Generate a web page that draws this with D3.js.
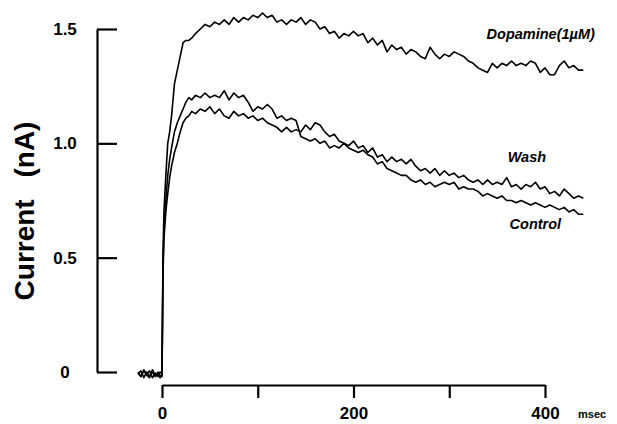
<!DOCTYPE html>
<html>
<head>
<meta charset="utf-8">
<script src="https://cdn.jsdelivr.net/npm/d3@7"></script>
<style>
  body { margin: 0; background: #fff; }
  svg { display: block; font-family: "Liberation Sans", Arial, Helvetica, sans-serif; }
  .trace { fill: none; stroke: #000; stroke-width: 1.6; stroke-linejoin: round; }
  .axis path, .axis line { stroke: #000; stroke-width: 2.2; }
  .axis text { font-size: 17px; font-weight: bold; fill: #000; }
  .label { font-size: 14.5px; font-weight: bold; font-style: italic; }
</style>
</head>
<body>
<svg width="617" height="424"></svg>
<script>
// **** data: sample times (ms) and currents (nA) ****

var timeMs = [-25, -22, -19, -16, -13, -10, -7, -4, -2, 0,
    1, 2, 4, 6, 8, 10, 13, 16, 19, 22, 25, 28, 31, 35,
    40, 45, 50, 55, 60, 65, 70, 75, 80, 85,
    90, 95, 100, 105, 110, 115, 120, 125, 130, 135,
    140, 145, 150, 155, 160, 165, 170, 175, 180, 185,
    190, 195, 200, 205, 210, 215, 220, 225, 230, 235,
    240, 245, 250, 255, 260, 265, 270, 275, 280, 285,
    290, 295, 300, 305, 310, 315, 320, 325, 330, 335,
    340, 345, 350, 355, 360, 365, 370, 375, 380, 385,
    390, 395, 400, 405, 410, 415, 420, 425, 430, 435,
    440];

var dopamine = [-0.005, -0.02, 0.005, -0.015, -0.025, 0.0, -0.02, -0.01, -0.015, -0.02,
    0.50, 0.70, 0.86, 1.00, 1.05, 1.12, 1.26, 1.32, 1.38, 1.44, 1.45, 1.45, 1.46, 1.48,
    1.50, 1.52, 1.51, 1.53, 1.52, 1.54, 1.52, 1.55, 1.53, 1.55,
    1.54, 1.56, 1.55, 1.57, 1.55, 1.56, 1.53, 1.54, 1.52, 1.54,
    1.53, 1.55, 1.52, 1.54, 1.53, 1.50, 1.51, 1.48, 1.49, 1.46,
    1.48, 1.47, 1.49, 1.47, 1.48, 1.44, 1.46, 1.43, 1.45, 1.40,
    1.43, 1.41, 1.42, 1.39, 1.41, 1.40, 1.38, 1.37, 1.42, 1.39,
    1.37, 1.39, 1.38, 1.40, 1.39, 1.38, 1.36, 1.35, 1.33, 1.32,
    1.31, 1.35, 1.33, 1.35, 1.34, 1.36, 1.34, 1.35, 1.34, 1.36,
    1.35, 1.31, 1.33, 1.30, 1.30, 1.34, 1.36, 1.33, 1.34, 1.32,
    1.32];

var wash = [0.0, -0.02, 0.01, -0.01, 0.005, -0.025, -0.005, -0.02, 0.0, -0.01,
    0.45, 0.62, 0.75, 0.86, 0.93, 0.98, 1.05, 1.09, 1.12, 1.15, 1.18, 1.20, 1.19, 1.21,
    1.20, 1.22, 1.20, 1.21, 1.20, 1.23, 1.19, 1.22, 1.20, 1.21,
    1.18, 1.14, 1.16, 1.15, 1.17, 1.15, 1.11, 1.12, 1.10, 1.11,
    1.10, 1.03, 1.02, 1.01, 1.02, 1.00, 1.01, 0.98, 0.99, 0.98,
    1.00, 0.99, 1.01, 0.98, 0.99, 0.96, 0.98, 0.94, 0.95, 0.92,
    0.94, 0.92, 0.93, 0.91, 0.93, 0.90, 0.88, 0.89, 0.87, 0.89,
    0.86, 0.88, 0.86, 0.87, 0.85, 0.86, 0.84, 0.83, 0.84, 0.82,
    0.84, 0.82, 0.83, 0.82, 0.85, 0.81, 0.82, 0.80, 0.82, 0.81,
    0.83, 0.80, 0.81, 0.78, 0.79, 0.77, 0.80, 0.78, 0.76, 0.77,
    0.76];

var control = [-0.01, 0.005, -0.025, 0.0, -0.02, 0.01, -0.015, 0.0, -0.025, -0.015,
    0.42, 0.58, 0.70, 0.78, 0.85, 0.90, 0.96, 1.00, 1.05, 1.09, 1.11, 1.12, 1.14, 1.13,
    1.15, 1.14, 1.16, 1.13, 1.15, 1.12, 1.11, 1.14, 1.12, 1.13,
    1.11, 1.12, 1.10, 1.11, 1.09, 1.08, 1.07, 1.05, 1.07, 1.05,
    1.06, 1.05, 1.08, 1.06, 1.09, 1.08, 1.05, 1.03, 1.04, 1.01,
    1.00, 0.98, 0.97, 0.96, 0.97, 0.95, 0.94, 0.91, 0.92, 0.89,
    0.88, 0.87, 0.86, 0.86, 0.84, 0.83, 0.84, 0.82, 0.83, 0.81,
    0.82, 0.83, 0.82, 0.83, 0.80, 0.81, 0.80, 0.80, 0.79, 0.77,
    0.78, 0.77, 0.76, 0.77, 0.75, 0.75, 0.74, 0.75, 0.74, 0.73,
    0.74, 0.73, 0.72, 0.73, 0.72, 0.71, 0.72, 0.70, 0.71, 0.69,
    0.69];

var yTicks = [0, 0.5, 1.0, 1.5];
var yTickLabels = ["0", "0.5", "1.0", "1.5"];
var xTicks = [0, 100, 200, 300, 400];
var xTickLabels = ["0", "", "200", "", "400"];

// trace name and where its label sits (time, current)
var traceNames = ["Dopamine(1\u00b5M)", "Wash", "Control"];
var traceLabelAt = [[339, 1.456], [361, 0.918], [363, 0.625]];

// **** scales ****

var svg = d3.select('svg');

var xScale = d3.scaleLinear().domain([0, 400]).range([162, 545]);
var yScale = d3.scaleLinear().domain([0, 1.5]).range([372, 29]);

// **** axes ****

var yAxis = svg.append('g').attr('class', 'axis')
    .attr('transform', 'translate(97,0)')
    .call(d3.axisLeft(yScale)
        .tickValues(yTicks)
        .tickSize(-20)
        .tickSizeOuter(0)
        .tickFormat(function(d, i) { return yTickLabels[i]; }));
yAxis.attr('font-family', null).attr('font-size', null);
yAxis.selectAll('text')
    .attr('x', -32)
    .attr('text-anchor', 'middle');

var xAxis = svg.append('g').attr('class', 'axis')
    .attr('transform', 'translate(0,385)')
    .call(d3.axisBottom(xScale)
        .tickValues(xTicks)
        .tickSize(13)
        .tickSizeOuter(0)
        .tickPadding(9)
        .tickFormat(function(d, i) { return xTickLabels[i]; }));
xAxis.attr('font-family', null).attr('font-size', null);

svg.append('text')
    .attr('x', 578).attr('y', 418)
    .attr('font-size', 11).attr('font-weight', 'bold')
    .text('msec');

svg.append('text')
    .attr('transform', 'translate(34,211) rotate(-90)')
    .attr('text-anchor', 'middle')
    .attr('font-size', 28).attr('font-weight', 'bold')
    .attr('word-spacing', 14)
    .text('Current (nA)');

// **** traces ****

var line = d3.line()
    .x(function(d, i) { return xScale(timeMs[i]); })
    .y(function(d) { return yScale(d); });

var traces = [dopamine, wash, control];

svg.selectAll('path.trace')
    .data(traces)
    .enter()
    .append('path')
    .attr('class', 'trace')
    .attr('d', line);

svg.selectAll('text.label')
    .data(traceNames)
    .enter()
    .append('text')
    .attr('class', 'label')
    .attr('x', function(d, i) { return xScale(traceLabelAt[i][0]); })
    .attr('y', function(d, i) { return yScale(traceLabelAt[i][1]); })
    .text(function(d) { return d; });
</script>
</body>
</html>
